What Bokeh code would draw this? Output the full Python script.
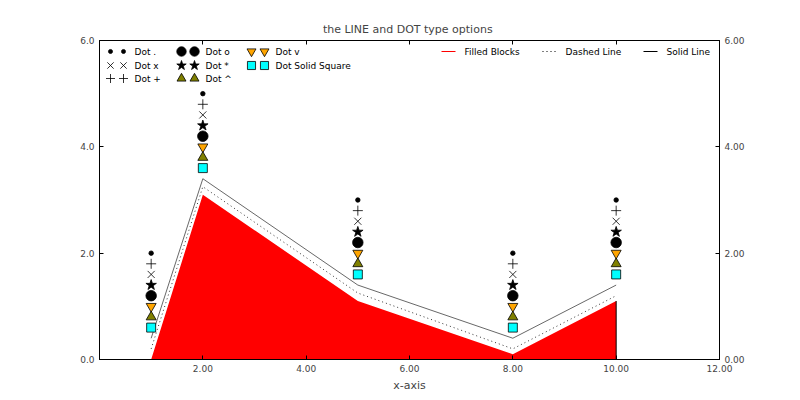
from bokeh.plotting import figure
from bokeh.models import Range1d, LinearAxis, FixedTicker, NumeralTickFormatter
from bokeh.core.properties import value
from bokeh.embed import file_html
from bokeh.resources import INLINE

# ---- data ----
xs = [1, 2, 5, 8, 10]
filled_y = [0.0, 3.1, 1.1, 0.1, 1.1]
dashed_y = [0.2, 3.25, 1.25, 0.2, 1.2]
solid_y = [0.4, 3.4, 1.4, 0.4, 1.4]

dot_y = [2.0, 5.0, 3.0, 2.0, 3.0]
plus_y = [1.8, 4.8, 2.8, 1.8, 2.8]
x_y = [1.6, 4.6, 2.6, 1.6, 2.6]
star_y = [1.4, 4.4, 2.4, 1.4, 2.4]
o_y = [1.2, 4.2, 2.2, 1.2, 2.2]
v_y = [1.0, 4.0, 2.0, 1.0, 2.0]
tri_y = [0.8, 3.8, 1.8, 0.8, 1.8]
sq_y = [0.6, 3.6, 1.6, 0.6, 1.6]

x_ticks = [2, 4, 6, 8, 10, 12]
top_ticks = [2, 4, 6, 8, 10]
y_ticks = [0, 2, 4, 6]

FONT = "DejaVu Sans"

FW, FH = 620, 319
p = figure(width=792, height=392, frame_width=FW, frame_height=FH,
           x_range=Range1d(0, 12), y_range=Range1d(0, 6),
           output_backend="svg", toolbar_location=None,
           min_border_left=99, min_border_right=73, min_border_top=40, min_border_bottom=33,
           title="the LINE and DOT  type options")
p.title.align = "center"
p.title.text_font = FONT
p.title.text_font_size = "11px"
p.title.text_font_style = "normal"
p.title.standoff = 10
p.grid.visible = False
p.outline_line_color = "black"
p.outline_line_width = 1
p.background_fill_color = "white"
p.border_fill_color = "white"

# pixel-space ranges for the legends
p.extra_x_ranges = {"lx": Range1d(0, FW)}
p.extra_y_ranges = {"ly": Range1d(0, FH)}

def style_axis(ax, ticks, fmt, label_size="9px"):
    ax.ticker = FixedTicker(ticks=ticks)
    ax.formatter = NumeralTickFormatter(format=fmt)
    ax.major_tick_in = 4
    ax.major_tick_out = 0
    ax.minor_tick_line_color = None
    ax.major_label_text_font = FONT
    ax.major_label_text_font_size = label_size
    ax.axis_line_color = "black"
    ax.major_tick_line_color = "black"

xa = p.xaxis[0]
style_axis(xa, x_ticks, "0.00")
xa.major_label_standoff = 5
xa.axis_label = "x-axis"
xa.axis_label_text_font = FONT
xa.axis_label_text_font_size = "11px"
xa.axis_label_text_font_style = "normal"
xa.axis_label_standoff = 4

ya = p.yaxis[0]
style_axis(ya, y_ticks, "0.0")
ya.major_label_standoff = 5

ra = LinearAxis()
style_axis(ra, y_ticks, "0.00")
ra.major_label_standoff = 5
p.add_layout(ra, "right")

ta = LinearAxis()
style_axis(ta, top_ticks, "0.00")
ta.major_label_overrides = {t: "" for t in top_ticks}
ta.major_label_standoff = 0
p.add_layout(ta, "above")

# ---- lines / fill ----
p.varea(x=xs, y1=[0] * len(xs), y2=filled_y, fill_color="red")
p.segment(x0=[xs[-1]], y0=[0], x1=[xs[-1]], y1=[filled_y[-1]], line_color="black", line_width=1)
p.line(xs, dashed_y, line_color="black", line_width=0.8, line_dash="1 3")
p.line(xs, solid_y, line_color="black", line_width=0.6)

# ---- markers ----
markers = [
    ("circle", 4.5, "black", "black", dot_y, "Dot ."),
    ("cross", 10, "black", "black", plus_y, "Dot +"),
    ("x", 10, "black", "black", x_y, "Dot x"),
    ("star", 11, "black", "black", star_y, "Dot *"),
    ("circle", 10.5, "black", "black", o_y, "Dot o"),
    ("inverted_triangle", 10, "orange", "black", v_y, "Dot v"),
    ("triangle", 10, "olive", "black", tri_y, "Dot ^"),
    ("square", 9, "cyan", "black", sq_y, "Dot Solid Square"),
]
for m, s, fc, lc, ys, lab in markers:
    p.scatter(xs, ys, marker=m, size=s, fill_color=fc, line_color=lc, line_width=0.8)

# ---- marker legend (pixel coordinates inside the frame) ----
legend_order = ["Dot .", "Dot x", "Dot +", "Dot o", "Dot *", "Dot ^", "Dot v", "Dot Solid Square"]
col_x = [11, 82, 152]
row_y = [FH - 11, FH - 25, FH - 38]
by_label = {lab: (m, s, fc, lc) for m, s, fc, lc, ys, lab in markers}
for i, lab in enumerate(legend_order):
    c, r = i // 3, i % 3
    m, s, fc, lc = by_label[lab]
    p.scatter([col_x[c], col_x[c] + 13], [row_y[r]] * 2, marker=m, size=s * 0.9,
              fill_color=fc, line_color=lc, line_width=0.8,
              x_range_name="lx", y_range_name="ly")
    p.text([col_x[c] + 24], [row_y[r]], text=[lab], text_font=value(FONT),
           text_font_size="9px", text_baseline="middle", text_align="left",
           x_range_name="lx", y_range_name="ly")

# ---- line legend ----
line_leg = [("Filled Blocks", "red", "solid"), ("Dashed Line", "black", "1 3"), ("Solid Line", "black", "solid")]
lx0 = [342, 443, 544]
ly0 = FH - 11
for (lab, col, dash), x0 in zip(line_leg, lx0):
    p.line([x0, x0 + 14], [ly0, ly0], line_color=col, line_width=1.2, line_dash=dash,
           x_range_name="lx", y_range_name="ly")
    p.text([x0 + 23], [ly0], text=[lab], text_font=value(FONT),
           text_font_size="9px", text_baseline="middle", text_align="left",
           x_range_name="lx", y_range_name="ly")

open("out.html", "w").write(file_html(p, INLINE))
